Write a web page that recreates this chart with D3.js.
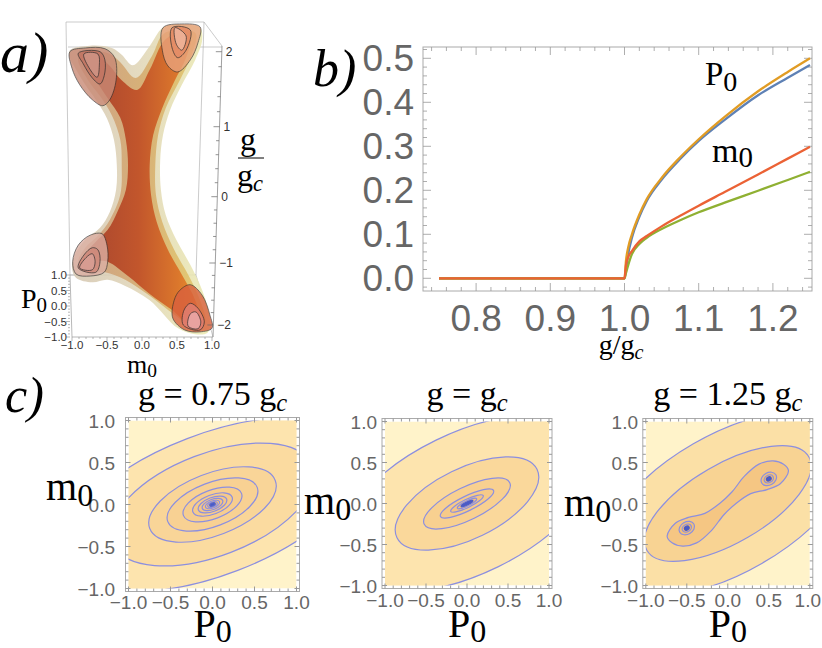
<!DOCTYPE html>
<html>
<head>
<meta charset="utf-8">
<script src="https://cdn.jsdelivr.net/npm/d3@7"></script>
<style>
  body { margin: 0; background: #fff; }
  svg { display: block; }
</style>
</head>
<body>
<svg id="fig" width="822" height="648"></svg>
<script>
// ---------- panel a: level surface, outlines as [m0, g] ----------
var aOuter = [[-1.03,2.02],[-0.74,2.08],[-0.43,2.05],[-0.29,1.96],[-0.13,1.82],[0.09,2.05],[0.26,2.29],[0.33,2.34],[0.61,2.36],[0.83,2.32],[0.86,2.16],[0.76,1.89],[0.57,1.56],[0.40,1.22],[0.30,0.88],[0.26,0.52],[0.27,0.10],[0.34,-0.28],[0.49,-0.65],[0.69,-1.03],[0.86,-1.44],[0.97,-1.89],[0.94,-2.12],[0.76,-2.15],[0.51,-2.05],[0.11,-1.60],[-0.24,-1.37],[-0.49,-1.27],[-0.71,-1.31],[-0.94,-1.24],[-1.0,-1.08],[-0.96,-0.88],[-0.81,-0.65],[-0.6,-0.47],[-0.46,-0.23],[-0.37,0.10],[-0.36,0.45],[-0.40,0.81],[-0.5,1.11],[-0.66,1.36],[-0.81,1.56],[-0.94,1.76],[-1.03,1.92]];
var aMid = [[-0.91,1.92],[-0.67,2.0],[-0.46,1.97],[-0.31,1.86],[-0.09,1.65],[0.14,1.94],[0.31,2.24],[0.61,2.29],[0.77,2.24],[0.71,1.96],[0.54,1.62],[0.34,1.25],[0.23,0.88],[0.19,0.45],[0.2,0.02],[0.29,-0.38],[0.46,-0.80],[0.66,-1.19],[0.83,-1.60],[0.90,-1.95],[0.76,-2.05],[0.47,-1.84],[0.11,-1.53],[-0.24,-1.27],[-0.53,-1.15],[-0.81,-1.15],[-0.91,-0.98],[-0.81,-0.77],[-0.63,-0.59],[-0.46,-0.35],[-0.31,0.03],[-0.29,0.45],[-0.31,0.81],[-0.43,1.15],[-0.6,1.41],[-0.77,1.62]];
var aInner = [[-0.77,1.92],[-0.6,1.92],[-0.46,1.81],[-0.29,1.62],[-0.07,1.49],[0.11,1.76],[0.33,2.16],[0.57,2.26],[0.69,2.18],[0.63,1.92],[0.46,1.60],[0.29,1.25],[0.16,0.88],[0.11,0.45],[0.13,0.02],[0.21,-0.38],[0.37,-0.80],[0.57,-1.19],[0.76,-1.60],[0.83,-1.95],[0.69,-2.0],[0.43,-1.76],[0.11,-1.50],[-0.2,-1.21],[-0.49,-0.98],[-0.71,-0.95],[-0.77,-0.83],[-0.66,-0.68],[-0.49,-0.50],[-0.34,-0.20],[-0.23,0.10],[-0.2,0.45],[-0.23,0.81],[-0.31,1.12],[-0.49,1.38],[-0.66,1.62],[-0.77,1.81]];
var cupTopLeft = [
  [[-1.03,2.0],[-0.81,2.05],[-0.53,2.04],[-0.39,1.92],[-0.37,1.62],[-0.46,1.36],[-0.56,1.28],[-0.71,1.36],[-0.89,1.56],[-1.0,1.78]],
  [[-0.91,1.98],[-0.6,2.0],[-0.53,1.89],[-0.54,1.68],[-0.6,1.57],[-0.71,1.65],[-0.84,1.84]],
  [[-0.83,1.97],[-0.63,1.97],[-0.61,1.81],[-0.64,1.66],[-0.74,1.76]]
];
var cupTopRight = [
  [[0.3,2.32],[0.29,2.02],[0.37,1.81],[0.51,1.73],[0.69,1.89],[0.8,2.12],[0.83,2.33],[0.57,2.37]],
  [[0.43,2.32],[0.43,2.05],[0.51,1.92],[0.63,2.02],[0.69,2.29]],
  [[0.47,2.32],[0.49,2.1],[0.57,2.02],[0.63,2.21]]
];
var cupLowLeft = [
  [[-0.99,-0.98],[-0.91,-0.73],[-0.74,-0.58],[-0.57,-0.56],[-0.5,-0.73],[-0.49,-0.98],[-0.54,-1.15],[-0.74,-1.21],[-0.94,-1.18]],
  [[-0.91,-1.08],[-0.83,-0.88],[-0.71,-0.77],[-0.63,-0.8],[-0.6,-0.98],[-0.66,-1.15]],
  [[-0.89,-1.08],[-0.8,-0.92],[-0.71,-0.86],[-0.67,-0.98],[-0.71,-1.11]]
];
var cupLowRight = [
  [[0.44,-1.89],[0.46,-1.60],[0.54,-1.44],[0.69,-1.35],[0.86,-1.52],[0.97,-1.84],[1.0,-2.05],[0.83,-2.11],[0.61,-2.08]],
  [[0.59,-2.0],[0.6,-1.76],[0.69,-1.65],[0.8,-1.73],[0.89,-1.95],[0.83,-2.08]],
  [[0.66,-2.02],[0.69,-1.82],[0.77,-1.79],[0.84,-1.95],[0.8,-2.06]]
];
var aTicksG = [-2, -1, 0, 1, 2];
var aTicksM = [-1, -0.5, 0, 0.5, 1];
var aTicksP = [-1, -0.5, 0, 0.5, 1];

// ---------- panel b: order parameters vs g/gc ----------
var gGrid    = [0.75, 1.0, 1.002, 1.005, 1.01, 1.02, 1.03, 1.05, 1.075, 1.1, 1.135, 1.18, 1.22, 1.25];
var p0Blue   = [0, 0, 0.02, 0.055, 0.092, 0.14, 0.176, 0.224, 0.271, 0.312, 0.36, 0.416, 0.456, 0.485];
var p0Orange = [0, 0, 0.04, 0.07, 0.10, 0.145, 0.18, 0.228, 0.275, 0.316, 0.367, 0.425, 0.469, 0.50];
var m0Red    = [0, 0, 0.03, 0.048, 0.062, 0.084, 0.096, 0.118, 0.142, 0.165, 0.196, 0.236, 0.272, 0.299];
var m0Green  = [0, 0, 0.012, 0.03, 0.055, 0.078, 0.092, 0.112, 0.132, 0.150, 0.172, 0.199, 0.2235, 0.242];
var bTicksX = [0.8, 0.9, 1.0, 1.1, 1.2];
var bTicksY = [0, 0.1, 0.2, 0.3, 0.4, 0.5];

// ---------- panel c: contour levels as tilted ellipses [semi-major, semi-minor] ----------
var cTicks = [-1, -0.5, 0, 0.5, 1];
var tilt075 = 21;
var ellipses075 = [[1.88,0.84],[1.28,0.61],[0.8,0.37],[0.57,0.26],[0.37,0.17],[0.25,0.115],[0.18,0.083],[0.13,0.06],[0.09,0.042],[0.06,0.028]];
var dot075 = [0.035, 0.018];
var tiltGc = 26;
var ellipsesGc = [[1.7,0.86],[0.95,0.43],[0.58,0.2],[0.36,0.09],[0.22,0.05],[0.13,0.03]];
var dotGc = [0.08, 0.018];
var tilt125 = 30;
var ellipses125 = [[1.7,0.84],[1.14,0.48]];
var peanut125 = [[0.74,0.40],[0.68,0.48],[0.55,0.52],[0.38,0.48],[0.2,0.33],[0.05,0.14],[-0.1,0.0],[-0.28,-0.12],[-0.48,-0.17],[-0.64,-0.24],[-0.74,-0.40],[-0.68,-0.48],[-0.55,-0.52],[-0.38,-0.48],[-0.2,-0.33],[-0.05,-0.14],[0.1,0.0],[0.28,0.12],[0.48,0.17],[0.64,0.24]];
var wells125 = [[0.5,0.3],[-0.5,-0.3]];
var wellRings125 = [[0.1,0.075],[0.06,0.045]];
var wellDot125 = [0.03, 0.024];

var SERIF = "'Liberation Serif', 'Times New Roman', serif";
var SANS = "'Liberation Sans', Arial, sans-serif";
var svg = d3.select("#fig");
var defs = svg.append("defs");

// text with optional subscripts: parts = [{t, s (scale), dy, i (italic)}]
function mtext(parent, x, y, size, anchor, parts) {
	var t = parent.append("text").attr("x", x).attr("y", y).attr("font-family", SERIF).attr("font-size", size).attr("text-anchor", anchor).attr("fill", "#000");
	var shift = 0;
	parts.forEach(function (p) {
		var s = t.append("tspan").text(p.t);
		var target = p.dy || 0;
		if (target !== shift) { s.attr("dy", target - shift); shift = target; }
		if (p.s) s.attr("font-size", size * p.s);
		if (p.i) s.attr("font-style", "italic");
	});
	return t;
}
function fmt1(v) { return (v < 0 ? "\u2212" : "") + Math.abs(v).toFixed(1); }
function grad(id, stops) {
	var lg = defs.append("linearGradient").attr("id", id).attr("x1", "0").attr("x2", "1").attr("y1", "0").attr("y2", "0");
	stops.forEach(function (s) { lg.append("stop").attr("offset", s[0]).attr("stop-color", s[1]); });
}

// panel labels
svg.append("text").attr("x", 0).attr("y", 72).attr("font-family", SERIF).attr("font-style", "italic").attr("font-size", 58).text("a)");
svg.append("text").attr("x", 313).attr("y", 86).attr("font-family", SERIF).attr("font-style", "italic").attr("font-size", 52).text("b)");
svg.append("text").attr("x", 5).attr("y", 412).attr("font-family", SERIF).attr("font-style", "italic").attr("font-size", 50).text("c)");

// =================== panel a ===================
var ga = svg.append("g");
var aM = d3.scaleLinear([-1, 1], [72, 212]);
var aG = d3.scaleLinear([-2, -1, 0, 1, 2], [325, 263, 196.7, 126.7, 51.7]);
var aP = d3.scaleLinear([-1, 1], [337, 275]);
var zAxisX = d3.scaleLinear([46, 337], [222, 213]);
var boxLine = function (x1, y1, x2, y2, c) {
	ga.append("line").attr("x1", x1).attr("y1", y1).attr("x2", x2).attr("y2", y2).attr("stroke", c || "#b4b4b4").attr("stroke-width", 0.7);
};
boxLine(66, 22, 204, 22);
boxLine(204, 22, 222, 46);
boxLine(68, 47, 222, 47);
boxLine(66, 22, 70, aP(1));
boxLine(204, 22, 196, aP(1));
boxLine(70, aP(1), 196, aP(1), "#888");
boxLine(196, aP(1), 213, aP(-1));

grad("gOuter", [[0, "#d6c8b4"], [0.5, "#e2d8bb"], [1, "#ecebb4"]]);
grad("gMid", [[0, "#cc9f84"], [0.5, "#d6ae74"], [1, "#e4cc6e"]]);
grad("gInner", [[0, "#a9462f"], [0.45, "#c2562c"], [0.8, "#db772c"], [1, "#e8922f"]]);
var aLine = d3.line().x(function (d) { return aM(d[0]); }).y(function (d) { return aG(d[1]); }).curve(d3.curveCatmullRomClosed.alpha(0.5));
ga.append("path").attr("d", aLine(aOuter)).attr("fill", "url(#gOuter)").attr("opacity", 0.92);
ga.append("path").attr("d", aLine(aMid)).attr("fill", "url(#gMid)").attr("opacity", 0.95);
ga.append("path").attr("d", aLine(aInner)).attr("fill", "url(#gInner)");

var cups = [cupTopLeft, cupTopRight, cupLowLeft, cupLowRight];
var cupColors = [["#c98a76", "#c27663", "#cf9384"], ["#e8a27c", "#e48c66", "#eeb39a"], ["#dcb0a4", "#cf8a7b", "#d89e94"], ["#d9603e", "#e07d6e", "#eba7a5"]];
cups.forEach(function (cup, ci) {
	cup.forEach(function (ring, ri) {
		ga.append("path").attr("d", aLine(ring)).attr("fill", cupColors[ci][ri]).attr("opacity", ri === 0 ? 0.8 : 0.9).attr("stroke", "#2b2b2b").attr("stroke-width", 0.75);
	});
});

// front axes of the box
ga.append("line").attr("x1", zAxisX(46)).attr("y1", 46).attr("x2", zAxisX(337)).attr("y2", 337).attr("stroke", "#777").attr("stroke-width", 0.7);
ga.append("line").attr("x1", 70).attr("y1", aP(1)).attr("x2", 72).attr("y2", aP(-1)).attr("stroke", "#999").attr("stroke-width", 0.7);
ga.append("line").attr("x1", 72).attr("y1", aP(-1)).attr("x2", 213).attr("y2", aP(-1)).attr("stroke", "#999").attr("stroke-width", 0.7);
d3.range(-2, 2.001, 0.2).forEach(function (v) {
	var yy = aG(v), xx = zAxisX(yy), major = Math.abs(v - Math.round(v)) < 1e-6;
	ga.append("line").attr("x1", xx).attr("y1", yy).attr("x2", xx - (major ? 6 : 3)).attr("y2", yy).attr("stroke", "#666").attr("stroke-width", 0.7);
});
aTicksG.forEach(function (v) {
	var yy = aG(v);
	ga.append("text").attr("x", zAxisX(yy) + 4).attr("y", yy + 4).attr("font-family", SANS).attr("font-size", 12).attr("fill", "#333").text(v < 0 ? "\u2212" + Math.abs(v) : String(v));
});
d3.range(-1, 1.001, 0.1).forEach(function (v) {
	var major = Math.abs(v * 2 - Math.round(v * 2)) < 1e-6;
	ga.append("line").attr("x1", 70).attr("y1", aP(v)).attr("x2", 70 - (major ? 4 : 2)).attr("y2", aP(v)).attr("stroke", "#888").attr("stroke-width", 0.6);
	ga.append("line").attr("x1", aM(v)).attr("y1", aP(-1)).attr("x2", aM(v)).attr("y2", aP(-1) + (major ? 4 : 2)).attr("stroke", "#888").attr("stroke-width", 0.6);
});
aTicksP.forEach(function (v) {
	ga.append("text").attr("x", 67).attr("y", aP(v) + 4).attr("text-anchor", "end").attr("font-family", SANS).attr("font-size", 11.5).attr("fill", "#333").text(fmt1(v));
});
aTicksM.forEach(function (v) {
	ga.append("text").attr("x", aM(v)).attr("y", 349).attr("text-anchor", "middle").attr("font-family", SANS).attr("font-size", 11.5).attr("fill", "#333").text(fmt1(v));
});
mtext(ga, 21, 308, 28, "start", [{ t: "P" }, { t: "0", s: 0.75, dy: 4 }]);
mtext(ga, 127, 373, 26, "start", [{ t: "m" }, { t: "0", s: 0.75, dy: 4 }]);
mtext(ga, 248, 150, 32, "middle", [{ t: "g" }]);
ga.append("line").attr("x1", 238).attr("y1", 158).attr("x2", 264).attr("y2", 158).attr("stroke", "#000").attr("stroke-width", 1);
mtext(ga, 250, 186, 32, "middle", [{ t: "g" }, { t: "c", s: 0.7, dy: 5, i: true }]);

// =================== panel b ===================
var gb = svg.append("g");
var bx = d3.scaleLinear([0.75, 1.25], [439, 810]);
var by = d3.scaleLinear([0, 0.5], [278.3, 58.3]);
var fL = 423, fR = 812, fT = 47, fB = 291;
gb.append("rect").attr("x", fL).attr("y", fT).attr("width", fR - fL).attr("height", fB - fT).attr("fill", "none").attr("stroke", "#aaa").attr("stroke-width", 1);
d3.range(-0.02, 0.521, 0.02).forEach(function (v) {
	var major = Math.abs(v * 10 - Math.round(v * 10)) < 1e-6, len = major ? 8 : 4;
	gb.append("line").attr("x1", fL).attr("x2", fL + len).attr("y1", by(v)).attr("y2", by(v)).attr("stroke", "#999").attr("stroke-width", 0.8);
	gb.append("line").attr("x1", fR).attr("x2", fR - len).attr("y1", by(v)).attr("y2", by(v)).attr("stroke", "#999").attr("stroke-width", 0.8);
});
d3.range(0.74, 1.251, 0.02).forEach(function (v) {
	var major = Math.abs(v * 10 - Math.round(v * 10)) < 1e-6, len = major ? 8 : 4;
	gb.append("line").attr("x1", bx(v)).attr("x2", bx(v)).attr("y1", fB).attr("y2", fB - len).attr("stroke", "#999").attr("stroke-width", 0.8);
	gb.append("line").attr("x1", bx(v)).attr("x2", bx(v)).attr("y1", fT).attr("y2", fT + len).attr("stroke", "#999").attr("stroke-width", 0.8);
});
bTicksY.forEach(function (v) {
	gb.append("text").attr("x", 414).attr("y", by(v) + 13).attr("text-anchor", "end").attr("font-family", SANS).attr("font-size", 37).attr("fill", "#666").text(v.toFixed(1));
});
bTicksX.forEach(function (v) {
	gb.append("text").attr("x", bx(v)).attr("y", 331).attr("text-anchor", "middle").attr("font-family", SANS).attr("font-size", 37).attr("fill", "#666").text(v.toFixed(1));
});
var bLine = d3.line().x(function (d) { return bx(d[0]); }).y(function (d) { return by(d[1]); }).curve(d3.curveMonotoneX);
[[p0Blue, "#5e81b5"], [p0Orange, "#e19c24"], [m0Green, "#8fb032"], [m0Red, "#eb6235"]].forEach(function (s) {
	gb.append("path").attr("d", bLine(gGrid.map(function (g, i) { return [g, s[0][i]]; }))).attr("fill", "none").attr("stroke", s[1]).attr("stroke-width", 2.3);
});
mtext(gb, 705, 85, 33, "start", [{ t: "P" }, { t: "0", s: 0.85, dy: 6 }]);
mtext(gb, 712, 162, 34, "start", [{ t: "m" }, { t: "0", s: 0.85, dy: 5 }]);
mtext(gb, 621, 354, 28, "middle", [{ t: "g/g" }, { t: "c", s: 0.72, dy: 5, i: true }]);

// =================== panel c ===================
function contourPlot(id, box, drawContours) {
	var g = svg.append("g");
	var x = d3.scaleLinear([-1, 1], [box.x0, box.x0 + box.size]);
	var y = d3.scaleLinear([-1, 1], [box.y0 + box.size, box.y0]);
	defs.append("clipPath").attr("id", id).append("rect").attr("x", box.x0).attr("y", box.y0).attr("width", box.size).attr("height", box.size);
	var inner = g.append("g").attr("clip-path", "url(#" + id + ")");
	inner.append("rect").attr("x", box.x0).attr("y", box.y0).attr("width", box.size).attr("height", box.size).attr("fill", "#fff3ca");
	var ell = function (c, ab, tilt, fill, stroke) {
		inner.append("ellipse").attr("cx", x(c[0])).attr("cy", y(c[1])).attr("rx", x(ab[0]) - x(0)).attr("ry", y(0) - y(ab[1]))
			.attr("transform", "rotate(" + (-tilt) + "," + x(c[0]) + "," + y(c[1]) + ")")
			.attr("fill", fill).attr("stroke", stroke || "#8c8fdf").attr("stroke-width", 1.2);
	};
	drawContours(inner, x, y, ell);
	var p = 3, L = box.x0 - p, R = box.x0 + box.size + p, T = box.y0 - p, B = box.y0 + box.size + p;
	g.append("rect").attr("x", L).attr("y", T).attr("width", R - L).attr("height", B - T).attr("fill", "none").attr("stroke", "#aaa").attr("stroke-width", 1);
	d3.range(-1, 1.001, 0.1).forEach(function (v) {
		var major = Math.abs(v * 2 - Math.round(v * 2)) < 1e-6, len = major ? 5 : 3;
		g.append("line").attr("x1", L).attr("x2", L + len).attr("y1", y(v)).attr("y2", y(v)).attr("stroke", "#999");
		g.append("line").attr("x1", R).attr("x2", R - len).attr("y1", y(v)).attr("y2", y(v)).attr("stroke", "#999");
		g.append("line").attr("x1", x(v)).attr("x2", x(v)).attr("y1", B).attr("y2", B - len).attr("stroke", "#999");
		g.append("line").attr("x1", x(v)).attr("x2", x(v)).attr("y1", T).attr("y2", T + len).attr("stroke", "#999");
	});
	cTicks.forEach(function (v) {
		g.append("text").attr("x", box.ylab).attr("y", y(v) + 7).attr("text-anchor", "end").attr("font-family", SANS).attr("font-size", 19).attr("fill", "#666").text(fmt1(v));
		var lx = x(v), anchor = "middle";
		if (lx + 15 > 821) { lx = 821; anchor = "end"; }
		g.append("text").attr("x", lx).attr("y", box.xlab).attr("text-anchor", anchor).attr("font-family", SANS).attr("font-size", 19).attr("fill", "#666").text(fmt1(v));
	});
	var cx = box.x0 + box.size / 2;
	mtext(g, cx, 405, 34, "middle", box.title);
	mtext(g, box.mx, box.my, 40, "start", [{ t: "m" }, { t: "0", s: 0.8, dy: 6 }]);
	mtext(g, cx, 637, 40, "middle", [{ t: "P" }, { t: "0", s: 0.8, dy: 5 }]);
}

var fills075 = ["#fde4ae", "#fbdba0", "#f9d598", "#f8d193", "#f7cd8e", "#f6ca8a", "#f5c787", "#f5c484", "#f4c281", "#f3bf7e"];
contourPlot("clip1", { x0: 128.5, y0: 420.5, size: 168, ylab: 115, xlab: 609, mx: 46, my: 500,
	title: [{ t: "g = 0.75 g" }, { t: "c", s: 0.72, dy: 6, i: true }] }, function (inner, x, y, ell) {
	ellipses075.forEach(function (ab, i) { ell([0, 0], ab, tilt075, fills075[i]); });
	ell([0, 0], dot075, tilt075, "#4a5ac6", "#5666cc");
});

var fillsGc = ["#fde4ae", "#fad89b", "#f8d090", "#f6ca88", "#f5c583", "#f4c17e"];
contourPlot("clip2", { x0: 385, y0: 421.5, size: 164, ylab: 377, xlab: 607, mx: 304, my: 514,
	title: [{ t: "g = g" }, { t: "c", s: 0.72, dy: 6, i: true }] }, function (inner, x, y, ell) {
	ellipsesGc.forEach(function (ab, i) { ell([0, 0], ab, tiltGc, fillsGc[i]); });
	ell([0, 0], dotGc, tiltGc, "#4a5ac6", "#4a5ac6");
});

var fills125 = ["#fbe0a6", "#f8d393"];
var ringFills125 = ["#f2c078", "#f0b96f"];
contourPlot("clip3", { x0: 645.8, y0: 421.5, size: 164, ylab: 638, xlab: 607, mx: 564, my: 516,
	title: [{ t: "g = 1.25 g" }, { t: "c", s: 0.72, dy: 6, i: true }] }, function (inner, x, y, ell) {
	ellipses125.forEach(function (ab, i) { ell([0, 0], ab, tilt125, fills125[i]); });
	var pLine = d3.line().x(function (d) { return x(d[0]); }).y(function (d) { return y(d[1]); }).curve(d3.curveCatmullRomClosed.alpha(0.5));
	inner.append("path").attr("d", pLine(peanut125)).attr("fill", "#f5c683").attr("stroke", "#8c8fdf").attr("stroke-width", 1.2);
	wells125.forEach(function (w) {
		wellRings125.forEach(function (ab, i) { ell(w, ab, tilt125, ringFills125[i]); });
		ell(w, wellDot125, tilt125, "#4a5ac6", "#4a5ac6");
	});
});
</script>
</body>
</html>
